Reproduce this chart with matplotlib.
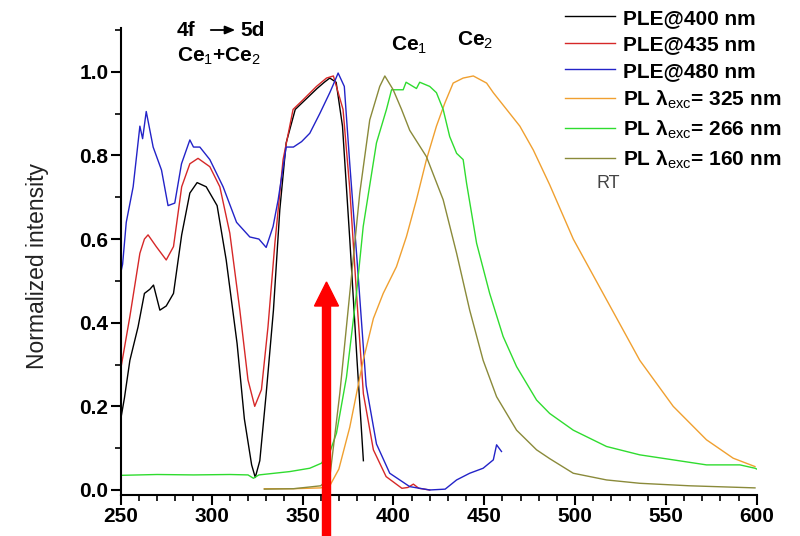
import numpy as np
import matplotlib
matplotlib.use("Agg")
import matplotlib.pyplot as plt
from matplotlib.patches import FancyArrow
from matplotlib.ticker import MultipleLocator

plt.rcParams['font.family'] = ['Liberation Sans', 'DejaVu Sans']
plt.rcParams['mathtext.fontset'] = 'custom'
plt.rcParams['mathtext.rm'] = 'Liberation Sans'
plt.rcParams['mathtext.bf'] = 'Liberation Sans:bold'

# PLE @ 400 nm
wl_400 = [250, 252, 255, 259.5, 263, 266, 268, 271.5, 275, 279, 283.5, 288, 292, 297, 303,
          308, 314, 318, 322, 324, 326.5, 330, 334, 337.5, 341, 346, 352, 358, 362, 365,
          368.5, 372, 376, 380, 383.5]
ple_400 = [0.17, 0.22, 0.31, 0.39, 0.47, 0.48, 0.49, 0.43, 0.44, 0.47, 0.61, 0.71, 0.735, 0.725, 0.68,
           0.55, 0.35, 0.17, 0.06, 0.03, 0.07, 0.23, 0.43, 0.67, 0.83, 0.91, 0.935, 0.96, 0.975, 0.985,
           0.975, 0.87, 0.6, 0.31, 0.07]

# PLE @ 435 nm
wl_435 = [250, 252, 255, 260.5, 263, 265, 269.5, 275, 279, 283.5, 288, 292.5, 299, 304.5, 310,
          315.5, 320, 323.7, 327.4, 331, 334.8, 339.3, 344.8, 350.3, 357.7, 363.2, 367, 372.3,
          376, 380, 383.5, 389, 396, 404.7, 408, 411, 414, 420]
ple_435 = [0.29, 0.34, 0.415, 0.566, 0.6, 0.61, 0.582, 0.55, 0.582, 0.725, 0.78, 0.793, 0.773, 0.725, 0.614,
           0.43, 0.263, 0.2, 0.24, 0.39, 0.59, 0.79, 0.91, 0.933, 0.965, 0.985, 0.99, 0.91,
           0.72, 0.45, 0.23, 0.096, 0.032, 0.004, 0.006, 0.014, 0.004, 0.0]

# PLE @ 480 nm
wl_480 = [250, 251, 253, 256.8, 260.5, 262, 264, 267.8, 272.4, 276, 279.7, 283.4, 288, 290, 293.5,
          299, 306.3, 313.7, 321, 326, 330, 333.8, 336.6, 341, 345, 349.5, 354, 359.5, 365, 367,
          369.6, 373, 376, 380, 385, 390.7, 398, 409, 420, 428.5, 434.8, 442, 449.4, 455, 456.8, 459.5]
ple_480 = [0.52, 0.54, 0.64, 0.725, 0.87, 0.84, 0.905, 0.82, 0.765, 0.68, 0.686, 0.78, 0.837, 0.82, 0.82,
           0.79, 0.725, 0.64, 0.605, 0.6, 0.58, 0.63, 0.694, 0.82, 0.82, 0.833, 0.853, 0.9, 0.95, 0.97,
           0.997, 0.965, 0.78, 0.55, 0.25, 0.11, 0.04, 0.008, 0.0, 0.002, 0.024, 0.04, 0.052, 0.072, 0.108, 0.092]

# PL, excitation 325 nm
wl_325 = [329, 345, 360, 365, 370, 376, 383.4, 389, 394.4, 401.7, 407.2, 412.7, 418.2, 423.7, 428.3,
          432.9, 438.4, 444, 451.3, 455, 462.3, 469.6, 477, 486, 499, 517.3, 535.6, 554, 572.3, 587, 599]
pl_325 = [0.003, 0.003, 0.005, 0.01, 0.05, 0.15, 0.31, 0.41, 0.47, 0.534, 0.606, 0.694, 0.79, 0.87, 0.925,
          0.973, 0.985, 0.99, 0.973, 0.95, 0.91, 0.87, 0.813, 0.73, 0.6, 0.455, 0.31, 0.2, 0.12, 0.076, 0.056]

# PL, excitation 266 nm
wl_266 = [250, 270, 290, 310, 320, 323, 326, 343, 354, 360.4, 365, 368.7, 374.2, 379.7, 383.4, 390.7,
          396.2, 399, 405.4, 407, 412.7, 414.5, 420, 423.7, 427.4, 431, 434.8, 438.4, 440.3, 445.8, 453,
          460.4, 467.8, 478.8, 486, 499, 517.3, 535.6, 554, 572.3, 590.7, 599, 600]
pl_266 = [0.035, 0.037, 0.036, 0.037, 0.036, 0.028, 0.036, 0.044, 0.052, 0.064, 0.09, 0.136, 0.27, 0.47, 0.63, 0.83,
          0.91, 0.957, 0.957, 0.975, 0.96, 0.975, 0.965, 0.95, 0.91, 0.845, 0.805, 0.79, 0.733, 0.59, 0.47,
          0.367, 0.295, 0.215, 0.183, 0.143, 0.104, 0.084, 0.072, 0.06, 0.06, 0.052, 0.05]

# PL, excitation 160 nm
wl_160 = [329, 345, 360, 365, 370.5, 376, 381.5, 387, 392.5, 395.3, 399.9, 404.5, 409, 418.2, 427.4,
          434.8, 442, 449.4, 456.8, 467.8, 478.8, 486, 499, 517.3, 535.6, 563, 599]
pl_160 = [0.002, 0.003, 0.01, 0.03, 0.23, 0.47, 0.71, 0.885, 0.965, 0.99, 0.957, 0.91, 0.86, 0.797, 0.694,
          0.566, 0.43, 0.31, 0.223, 0.143, 0.096, 0.075, 0.04, 0.024, 0.016, 0.01, 0.005]

fig = plt.figure(figsize=(8, 5.36), dpi=100)
ax = fig.add_axes([0.151, 0.0765, 0.795, 0.8715])

ax.plot(wl_400, ple_400, color='black', lw=1.0, label='PLE@400 nm')
ax.plot(wl_435, ple_435, color='#d62828', lw=1.0, label='PLE@435 nm')
ax.plot(wl_480, ple_480, color='#2323c8', lw=1.0, label='PLE@480 nm')
ax.plot(wl_325, pl_325, color='#f0a030', lw=1.0, label=r'PL λ$_{\rm exc}$= 325 nm')
ax.plot(wl_266, pl_266, color='#2fdc2f', lw=1.0, label=r'PL λ$_{\rm exc}$= 266 nm')
ax.plot(wl_160, pl_160, color='#8a8a3a', lw=1.0, label=r'PL λ$_{\rm exc}$= 160 nm')

ax.set_xlim(250, 600)
ax.set_ylim(-0.012, 1.105)
ax.xaxis.set_major_locator(MultipleLocator(50))
ax.xaxis.set_minor_locator(MultipleLocator(10))
ax.yaxis.set_major_locator(MultipleLocator(0.2))
ax.yaxis.set_minor_locator(MultipleLocator(0.1))
ax.yaxis.set_major_formatter(matplotlib.ticker.FormatStrFormatter('%.1f'))
ax.spines['top'].set_visible(False)
ax.spines['right'].set_visible(False)
ax.spines['left'].set_linewidth(1.5)
ax.spines['bottom'].set_linewidth(1.5)
ax.tick_params(which='major', length=7, width=1.5, labelsize=15, pad=2)
ax.tick_params(which='minor', length=4, width=1.2)
for t in ax.get_xticklabels() + ax.get_yticklabels():
    t.set_fontweight('bold')

ax.set_ylabel('Normalized intensity', fontsize=16.5, color='#222222')
ax.yaxis.set_label_coords(-0.113, 0.49)

leg = ax.legend(loc='upper left', bbox_to_anchor=(546 / 800, 1 + 10 / 536),
                bbox_transform=fig.transFigure, frameon=False,
                handlelength=2.4, handletextpad=0.4, labelspacing=0.36,
                prop={'weight': 'bold', 'size': 15})
fig.text(596 / 800, 1 - 184 / 536, 'RT', fontsize=13, color='#444444', ha='left', va='center')

fig.text(177 / 800, 1 - 30 / 536, '4f', fontsize=15, fontweight='bold', va='center')
fig.text(240 / 800, 1 - 30 / 536, '5d', fontsize=15, fontweight='bold', va='center')
ax.annotate('', xy=(238, 536 - 30), xytext=(208, 536 - 30), xycoords='figure pixels',
            textcoords='figure pixels',
            arrowprops=dict(arrowstyle='-|>,head_length=0.6,head_width=0.25', color='black', lw=1.3))
fig.text(177 / 800, 1 - 56 / 536, r'Ce$_1$+Ce$_2$', fontsize=15, fontweight='bold', va='center')
fig.text(391 / 800, 1 - 45 / 536, r'Ce$_1$', fontsize=15, fontweight='bold', va='center')
fig.text(457 / 800, 1 - 40 / 536, r'Ce$_2$', fontsize=15, fontweight='bold', va='center')

arrow = FancyArrow(326.5 / 800, 0, 0, 254 / 536, width=8 / 800, head_width=24 / 800,
                   head_length=24 / 536, length_includes_head=True, color='red',
                   transform=fig.transFigure)
fig.patches.append(arrow)

fig.savefig('out.png', dpi=100)
